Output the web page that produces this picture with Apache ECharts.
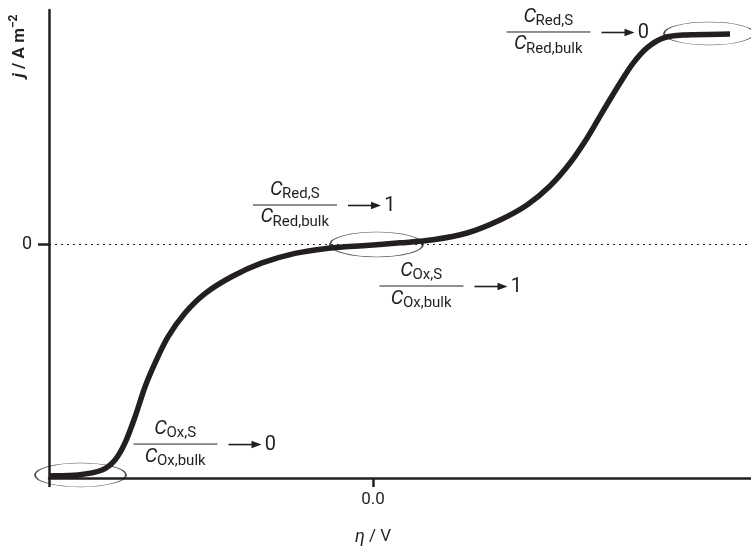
<!DOCTYPE html>
<html>
<head>
<meta charset="utf-8">
<script src="https://cdn.jsdelivr.net/npm/echarts@6/dist/echarts.min.js"></script>
<style>
  html, body { margin: 0; padding: 0; background: #ffffff; }
  #chart { width: 751px; height: 550px; }
</style>
</head>
<body>
<div id="chart"></div>
<script>
// ---- data (overpotential η in V, current density j normalised) ----
const etaValues = [-0.5, -0.4552, -0.4182, -0.3981, -0.3827, -0.3673, -0.3519, -0.3364, -0.3164, -0.2901,
  -0.2593, -0.2176, -0.1713, -0.1204, -0.0694, -0.0432, 0.0, 0.0417, 0.0926, 0.1451,
  0.196, 0.2377, 0.2731, 0.304, 0.3302, 0.3549, 0.3812, 0.4012, 0.4228, 0.4475, 0.4784, 0.5509];
const jValues = [-0.991, -0.987, -0.966, -0.923, -0.850, -0.739, -0.611, -0.509, -0.397, -0.295,
  -0.212, -0.139, -0.081, -0.040, -0.018, -0.012, -0.004, 0.005, 0.018, 0.047,
  0.103, 0.167, 0.248, 0.346, 0.452, 0.568, 0.688, 0.772, 0.838, 0.880, 0.893, 0.897];

const xTickValues = [-0.5, 0];
const xLabelValues = [0];
const xLabelText = ['0.0'];
const yTickValues = [0];
const yLabelText = ['0'];

// annotations: fraction anchors (data units)
const annoEta = [0.2708, -0.1204, 0.0748, -0.3048];
const annoJ = [0.906, 0.1667, -0.1795, -0.855];
const annoSpecies = ['Red', 'Red', 'Ox', 'Ox'];
const annoLimit = ['0', '1', '1', '0'];

// highlighted regions (ellipse centres, data units)
const ellipseEta = [-0.4514, 0.0054, 0.5185];
const ellipseJ = [-0.987, -0.002, 0.8996];

const INK = '#231f20';
const FONT = 'Roboto';
const ellipseSizes = [[91, 24], [93, 25], [90, 23]];

const chart = echarts.init(document.getElementById('chart'), null, { renderer: 'canvas' });

// smooth curve (Catmull-Rom through the data points, mapped by the axes)
function renderCurve(params, api) {
  if (params.dataIndex !== 0) return null;
  const pts = etaValues.map((x, i) => api.coord([x, jValues[i]]));
  const n = pts.length;
  let d = 'M' + pts[0][0] + ',' + pts[0][1];
  for (let i = 0; i < n - 1; i++) {
    const p0 = pts[Math.max(i - 1, 0)], p1 = pts[i], p2 = pts[i + 1], p3 = pts[Math.min(i + 2, n - 1)];
    const c1x = p1[0] + (p2[0] - p0[0]) / 6, c1y = p1[1] + (p2[1] - p0[1]) / 6;
    const c2x = p2[0] - (p3[0] - p1[0]) / 6, c2y = p2[1] - (p3[1] - p1[1]) / 6;
    d += 'C' + c1x + ',' + c1y + ',' + c2x + ',' + c2y + ',' + p2[0] + ',' + p2[1];
  }
  return {
    type: 'path', silent: true,
    shape: { pathData: d },
    style: { stroke: INK, lineWidth: 5.5, fill: 'none', lineCap: 'butt', lineJoin: 'round' }
  };
}

const option = {
  animation: false,
  backgroundColor: '#ffffff',
  grid: { left: 49, right: 0, top: 10, bottom: 72, containLabel: false },
  xAxis: {
    type: 'value', min: -0.5, max: 0.5833,
    axisLine: { show: true, onZero: false, lineStyle: { color: INK, width: 2.5 } },
    axisTick: { show: true, customValues: xTickValues, length: 9, lineStyle: { color: INK, width: 2.5 } },
    axisLabel: { show: true, customValues: xLabelValues, margin: 13, color: INK, fontFamily: FONT, fontSize: 17,
      formatter: (v) => xLabelText[xLabelValues.indexOf(v)] ?? '' },
    splitLine: { show: false }
  },
  yAxis: {
    type: 'value', min: -1, max: 1,
    axisLine: { show: true, onZero: false, lineStyle: { color: INK, width: 2.5 } },
    axisTick: { show: true, customValues: yTickValues, length: 11, lineStyle: { color: INK, width: 2.5 } },
    axisLabel: { show: true, customValues: yTickValues, margin: 17, color: INK, fontFamily: FONT, fontSize: 18,
      formatter: (v) => yLabelText[yTickValues.indexOf(v)] ?? '' },
    splitLine: { show: false }
  },
  series: [
    {
      type: 'line',
      data: [],
      silent: true, z: 1,
      markLine: {
        silent: true, symbol: 'none', label: { show: false },
        lineStyle: { color: INK, width: 1, type: [2, 4] },
        data: [{ yAxis: 0 }], z: 1
      }
    },
    {
      type: 'custom',
      data: etaValues.map((x, i) => [x, jValues[i]]),
      renderItem: renderCurve,
      silent: true, z: 3, clip: false
    },
    {
      type: 'scatter',
      data: ellipseEta.map((x, i) => ({ value: [x, ellipseJ[i]], symbolSize: ellipseSizes[i] })),
      symbol: 'path://M0,50a100,50 0 1,0 200,0a100,50 0 1,0 -200,0',
      itemStyle: { color: 'rgba(0,0,0,0)', borderColor: INK, borderWidth: 1 },
      silent: true, z: 4,
      emphasis: { disabled: true }
    }
  ]
};
chart.setOption(option);

// ---- text annotations positioned from data anchors ----
const ctx = document.createElement('canvas').getContext('2d');
function measure(font, txt) { ctx.font = font; return ctx.measureText(txt).width; }

const graphics = [];
function txt(x, y, text, size, opts) {
  graphics.push({
    type: 'text', x, y, silent: true, z: 10,
    style: Object.assign({ text, fill: INK, fontFamily: FONT, fontSize: size, align: 'left', verticalAlign: 'middle' }, opts || {})
  });
}
function cWithSub(cx, yC, ySub, sub) {
  const wC = measure('italic 20px ' + FONT, 'C');
  const wS = measure('15px ' + FONT, sub);
  const total = wC + wS;
  const x0 = cx - total / 2;
  txt(x0, yC, 'C', 20, { fontStyle: 'italic' });
  txt(x0 + wC - 0.5, ySub, sub, 15);
}

annoEta.forEach((e, i) => {
  const p = chart.convertToPixel({ gridIndex: 0 }, [e, annoJ[i]]);
  const cx = p[0], cy = p[1];
  const sp = annoSpecies[i];
  cWithSub(cx, cy - 15, cy - 11, sp + ',S');
  graphics.push({ type: 'line', silent: true, z: 10, shape: { x1: cx - 42, y1: cy, x2: cx + 42, y2: cy }, style: { stroke: INK, lineWidth: 1 } });
  cWithSub(cx, cy + 12.5, cy + 17, sp + ',bulk');
  graphics.push({ type: 'line', silent: true, z: 10, shape: { x1: cx + 53, y1: cy + 0.5, x2: cx + 79, y2: cy + 0.5 }, style: { stroke: INK, lineWidth: 1.6 } });
  graphics.push({ type: 'polygon', silent: true, z: 10, shape: { points: [[cx + 76, cy - 3.3], [cx + 86, cy + 0.5], [cx + 76, cy + 4.3]] }, style: { fill: INK } });
  txt(cx + 95, cy + 1, annoLimit[i], 20, { align: 'center' });
});

// axis titles
const px0 = chart.convertToPixel({ gridIndex: 0 }, [0, -1]);
graphics.push({
  type: 'text', x: px0[0], y: 537, silent: true, z: 10,
  style: {
    text: '{i|η} / V', align: 'center', verticalAlign: 'middle', fill: INK, fontFamily: FONT, fontSize: 17,
    rich: { i: { fontStyle: 'italic', fontSize: 18, fontFamily: FONT, fill: INK } }
  }
});
graphics.push({
  type: 'text', x: 18, y: 46, rotation: Math.PI / 2, silent: true, z: 10,
  style: {
    text: '{j|j}{n| / A m}{s|−2}', align: 'center', verticalAlign: 'middle', fill: INK,
    fontFamily: FONT, fontSize: 17, fontWeight: 'bold',
    rich: {
      j: { fontStyle: 'italic', fontWeight: 'bold', fontSize: 17, fontFamily: FONT, fill: INK, verticalAlign: 'bottom', lineHeight: 20 },
      n: { fontWeight: 'bold', fontSize: 17, fontFamily: FONT, fill: INK, verticalAlign: 'bottom', lineHeight: 20 },
      s: { fontWeight: 'bold', fontSize: 12, fontFamily: FONT, fill: INK, verticalAlign: 'top', lineHeight: 20 }
    }
  }
});

chart.setOption({ graphic: graphics });
</script>
</body>
</html>
